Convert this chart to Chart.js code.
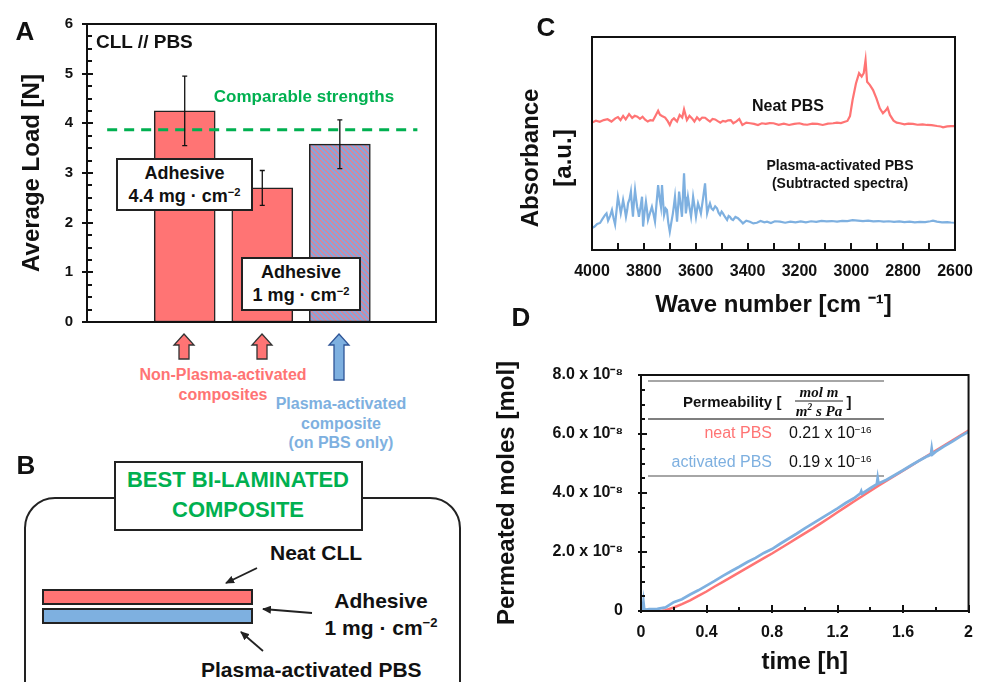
<!DOCTYPE html>
<html>
<head>
<meta charset="utf-8">
<script src="https://cdn.jsdelivr.net/npm/chart.js@4.4.1/dist/chart.umd.min.js"></script>
<style>
  body { margin: 0; background: #fff; }
  #fig { position: relative; width: 985px; height: 682px; overflow: hidden; background: #fff;
         font-family: 'Liberation Sans', Arial, sans-serif; color: #111; }
  #fig canvas, #fig svg, #fig .t, #fig .box { position: absolute; }
  .t { font-weight: bold; white-space: nowrap; line-height: 1; }
  .c { transform: translate(-50%, -50%); }
  .l { transform: translate(0, -50%); }
  .r { transform: translate(-100%, -50%); }
  .rot { transform: translate(-50%, -50%) rotate(-90deg); }
  .box { background: #fff; border: 2px solid #222; box-sizing: border-box; display: flex; flex-direction: column;
         align-items: center; justify-content: center; font-weight: bold; font-size: 18px; line-height: 23px; }
  sup { font-size: 0.62em; vertical-align: 0.55em; line-height: 0; }
  .red { color: #ff7474; }
  .blue { color: #7eb0e0; }
  .green { color: #00b050; }
  .norm { font-weight: normal; }
  .frac { font-family: 'Liberation Serif', serif; font-style: italic; font-size: 15px; }
</style>
</head>
<body>
<div id="fig">
  <svg width="985" height="682" style="left:0;top:0">
    <defs>
      <marker id="ah" markerWidth="9" markerHeight="8" refX="8" refY="4" orient="auto" markerUnits="userSpaceOnUse">
        <path d="M0,0 L9,4 L0,8 Z" fill="#222"/>
      </marker>
    </defs>
    <!-- block arrows under panel A -->
    <path d="M184,334 L194,345 L189,345 L189,359 L179,359 L179,345 L174,345 Z" fill="#ff7474" stroke="#333" stroke-width="1.3"/>
    <path d="M262,334 L272,345 L267,345 L267,359 L257,359 L257,345 L252,345 Z" fill="#ff7474" stroke="#333" stroke-width="1.3"/>
    <path d="M339,334 L349,345 L344,345 L344,380 L334,380 L334,345 L329,345 Z" fill="#7eb0e0" stroke="#2f5597" stroke-width="1.3"/>
    <!-- panel B schematic -->
    <rect x="25" y="498" width="435" height="240" rx="30" fill="none" stroke="#222" stroke-width="2"/>
    <rect x="115" y="462" width="247" height="68" fill="#fff" stroke="#222" stroke-width="2"/>
    <rect x="43" y="590" width="209" height="14" fill="#ff7474" stroke="#222" stroke-width="2"/>
    <rect x="43" y="609" width="209" height="14" fill="#7eb0e0" stroke="#222" stroke-width="2"/>
    <line x1="257" y1="568" x2="226" y2="583" stroke="#222" stroke-width="1.8" marker-end="url(#ah)"/>
    <line x1="312" y1="613" x2="263" y2="609" stroke="#222" stroke-width="1.8" marker-end="url(#ah)"/>
    <line x1="263" y1="651" x2="241" y2="632" stroke="#222" stroke-width="1.8" marker-end="url(#ah)"/>
    <!-- panel D inset table rules -->
    <line x1="648" y1="381" x2="884" y2="381" stroke="#888" stroke-width="1.5"/>
    <line x1="648" y1="419" x2="884" y2="419" stroke="#555" stroke-width="1.5"/>
    <line x1="648" y1="476" x2="884" y2="476" stroke="#888" stroke-width="1.5"/>
    <line x1="795" y1="401" x2="843" y2="401" stroke="#222" stroke-width="1"/>
  </svg>

  <canvas id="chartA" width="450" height="345" style="left:0;top:0"></canvas>
  <canvas id="chartC" width="475" height="320" style="left:510px;top:0"></canvas>
  <canvas id="chartD" width="495" height="382" style="left:490px;top:300px"></canvas>

  <!-- panel letters -->
  <div class="t c" style="left:25px;top:31px;font-size:26px">A</div>
  <div class="t c" style="left:26px;top:465px;font-size:26px">B</div>
  <div class="t c" style="left:546px;top:27px;font-size:26px">C</div>
  <div class="t c" style="left:521px;top:317px;font-size:26px">D</div>

  <!-- panel A notes -->
  <div class="t l" style="left:96px;top:41px;font-size:19px">CLL // PBS</div>
  <div class="t c green" style="left:304px;top:96px;font-size:17px">Comparable strengths</div>
  <div class="box" style="left:116px;top:158px;width:137px;height:53px"><span>Adhesive</span><span>4.4 mg · cm<sup>−2</sup></span></div>
  <div class="box" style="left:241px;top:257px;width:120px;height:54px"><span>Adhesive</span><span>1 mg · cm<sup>−2</sup></span></div>
  <div class="t c red" style="left:223px;top:375px;font-size:16px">Non-Plasma-activated</div>
  <div class="t c red" style="left:223px;top:395px;font-size:16px">composites</div>
  <div class="t c blue" style="left:341px;top:404px;font-size:16px">Plasma-activated</div>
  <div class="t c blue" style="left:341px;top:424px;font-size:16px">composite</div>
  <div class="t c blue" style="left:341px;top:443px;font-size:16px">(on PBS only)</div>

  <!-- panel B text -->
  <div class="t c green" style="left:238px;top:480px;font-size:22px">BEST BI-LAMINATED</div>
  <div class="t c green" style="left:238px;top:510px;font-size:22px">COMPOSITE</div>
  <div class="t l" style="left:270px;top:552px;font-size:21px">Neat CLL</div>
  <div class="t c" style="left:381px;top:600px;font-size:21px">Adhesive</div>
  <div class="t c" style="left:381px;top:627px;font-size:21px">1 mg · cm<sup>−2</sup></div>
  <div class="t l" style="left:201px;top:669px;font-size:21px">Plasma-activated PBS</div>

  <!-- panel C labels -->
  <div class="t rot" style="left:530px;top:158px;font-size:24px">Absorbance</div>
  <div class="t rot" style="left:563px;top:158px;font-size:24px">[a.u.]</div>
  <div class="t c" style="left:788px;top:106px;font-size:16px">Neat PBS</div>
  <div class="t c" style="left:840px;top:165px;font-size:14px">Plasma-activated PBS</div>
  <div class="t c" style="left:840px;top:183px;font-size:14px">(Subtracted spectra)</div>

  <!-- panel D inset table -->
  <div class="t l" style="left:683px;top:401px;font-size:15px">Permeability [</div>
  <div class="t c frac" style="left:819px;top:392px">mol m</div>
  <div class="t c frac" style="left:819px;top:411px">m<sup>2</sup> s Pa</div>
  <div class="t c" style="left:849px;top:401px;font-size:15px">]</div>
  <div class="t r red norm" style="left:772px;top:433px;font-size:16px">neat PBS</div>
  <div class="t l norm" style="left:789px;top:433px;font-size:16px">0.21 x 10<sup>−16</sup></div>
  <div class="t r blue norm" style="left:772px;top:462px;font-size:16px">activated PBS</div>
  <div class="t l norm" style="left:789px;top:462px;font-size:16px">0.19 x 10<sup>−16</sup></div>
</div>

<script>
// ---- A: lap-shear load ----
const groups = ['Adhesive 4.4 mg/cm2', 'Adhesive 1 mg/cm2', 'Plasma-activated, 1 mg/cm2'];
const avgLoad = [4.25, 2.7, 3.58];
const loadErr = [0.7, 0.35, 0.49];
const comparableLevel = 3.87;

// ---- C: FTIR spectra (arbitrary units) ----
const neatWn = [4000,3985,3970,3955,3940,3925,3910,3900,3890,3880,3870,3857,3845,3835,3825,3815,3805,3795,3785,3775,
  3765,3757,3745,3738,3730,3718,3708,3700,3692,3684,3672,3662,3652,3645,3634,3624,3614,3605,3595,3585,
  3575,3564,3555,3545,3535,3525,3515,3505,3495,3485,3475,3465,3455,3443,3432,3420,3405,3390,3375,3360,
  3345,3330,3315,3300,3280,3260,3240,3220,3200,3185,3170,3150,3130,3110,3090,3070,3055,3040,3025,3015,
  3005,2995,2982,2970,2960,2952,2945,2939,2928,2916,2903,2890,2878,2866,2860,2851,2837,2825,2812,2795,
  2780,2762,2745,2725,2708,2690,2669,2655,2646,2630,2615,2600];
const neatAbs = [5.98,6.07,6.02,6.10,6.14,6.03,6.18,6.24,6.10,6.29,6.13,6.38,6.20,6.30,6.26,6.16,6.26,6.12,6.03,6.10,
  6.08,6.26,6.54,6.35,6.29,6.22,6.05,5.87,6.10,6.18,6.03,6.34,6.22,6.60,6.10,6.30,6.18,6.03,6.23,6.10,
  6.22,6.21,6.12,6.03,6.15,6.13,6.05,5.98,6.06,6.03,6.09,6.10,5.95,6.04,6.15,5.87,5.98,5.95,5.92,5.87,
  5.95,5.92,5.96,5.95,5.88,5.93,5.87,5.92,5.95,5.90,5.88,5.93,5.92,5.87,5.93,5.95,5.98,5.96,6.02,6.06,
  6.29,7.04,7.82,8.30,8.14,8.30,8.92,7.90,7.74,7.51,7.12,6.65,6.42,6.57,6.68,6.34,6.07,5.98,5.95,5.90,
  5.93,5.92,5.88,5.90,5.87,5.86,5.82,5.80,5.76,5.80,5.82,5.82];
const actWn = [4000,3990,3980,3969,3960,3950,3944,3938,3930,3923,3917,3911,3905,3900,3894,3889,3884,3880,3874,3869,
  3864,3861,3855,3850,3846,3842,3838,3834,3830,3826,3822,3819,3813,3807,3803,3797,3792,3788,3784,3776,
  3769,3763,3757,3751,3745,3740,3734,3730,3726,3722,3716,3711,3706,3700,3694,3688,3684,3680,3676,3672,
  3668,3664,3658,3653,3649,3645,3641,3638,3634,3630,3624,3618,3614,3610,3604,3599,3595,3591,3585,3580,
  3572,3564,3560,3556,3550,3545,3539,3533,3525,3518,3512,3506,3500,3495,3487,3479,3473,3468,3462,3456,
  3447,3437,3428,3418,3405,3391,3378,3364,3350,3335,3325,3310,3295,3275,3255,3235,3215,3195,3175,3155,
  3135,3115,3095,3075,3055,3035,3015,2995,2975,2955,2935,2915,2895,2875,2855,2835,2815,2795,2775,2755,
  2735,2715,2695,2685,2670,2650,2630,2615,2600];
const actAbs = [1.03,1.10,1.22,1.27,1.45,1.64,1.72,1.38,1.60,1.88,1.50,1.20,1.90,2.50,2.10,1.72,2.05,2.35,1.95,1.56,
  1.90,2.19,2.40,2.74,2.10,1.56,2.30,2.82,2.40,2.03,1.80,1.56,2.00,2.50,1.10,1.80,2.27,1.90,1.41,1.75,
  2.03,1.70,1.33,2.20,3.05,2.50,2.03,3.05,2.30,1.64,1.95,1.88,1.30,0.86,1.30,1.72,2.10,2.50,1.90,1.33,
  2.00,2.74,2.10,1.56,2.60,3.60,2.50,1.72,2.10,2.50,2.00,1.56,2.00,2.50,2.00,1.56,1.90,2.19,1.95,1.72,
  2.40,3.13,2.40,1.72,2.00,2.19,1.95,1.88,2.05,1.96,1.75,1.64,1.80,1.72,1.55,1.41,1.60,1.56,1.45,1.41,
  1.55,1.49,1.38,1.25,1.38,1.33,1.25,1.28,1.36,1.30,1.33,1.27,1.35,1.33,1.28,1.33,1.30,1.34,1.30,1.35,
  1.32,1.37,1.34,1.36,1.33,1.37,1.36,1.40,1.38,1.36,1.38,1.34,1.36,1.33,1.35,1.32,1.34,1.31,1.33,1.30,
  1.32,1.31,1.35,1.38,1.33,1.30,1.31,1.29,1.28];

// ---- D: permeated moles (x 1e-8 mol) vs time (h) ----
const neatTime = [0,0.05,0.1,0.13,0.15,0.2,0.25,0.3,0.35,0.4,0.45,0.5,0.55,0.6,0.65,0.7,0.75,0.8,0.85,0.9,0.95,
  1.0,1.05,1.1,1.15,1.2,1.25,1.3,1.35,1.4,1.45,1.5,1.55,1.6,1.65,1.7,1.75,1.8,1.85,1.9,1.95,2.0];
const neatMoles = [0,0,0,0.01,0.03,0.12,0.23,0.36,0.51,0.66,0.83,0.99,1.15,1.31,1.47,1.63,1.79,1.95,2.12,2.29,2.46,
  2.63,2.80,2.98,3.16,3.35,3.53,3.71,3.89,4.07,4.25,4.42,4.59,4.76,4.93,5.10,5.27,5.44,5.61,5.78,5.95,6.12];
const actTime = [0,0.01,0.015,0.02,0.05,0.1,0.15,0.2,0.25,0.3,0.35,0.4,0.45,0.5,0.55,0.6,0.65,0.7,0.75,0.8,0.85,0.9,0.95,
  1.0,1.05,1.1,1.15,1.2,1.25,1.3,1.34,1.345,1.35,1.4,1.44,1.445,1.45,1.5,1.55,1.6,1.65,1.7,1.75,1.77,1.775,1.78,
  1.8,1.85,1.9,1.95,2.0];
const actMoles = [0.02,0.05,0.30,0.04,0.06,0.07,0.12,0.30,0.40,0.56,0.70,0.86,1.02,1.19,1.35,1.50,1.66,1.80,1.97,2.10,2.28,2.45,2.62,
  2.80,2.97,3.14,3.31,3.48,3.66,3.82,3.99,4.06,3.98,4.16,4.30,4.50,4.32,4.45,4.61,4.77,4.94,5.10,5.25,5.30,5.50,5.31,
  5.40,5.58,5.74,5.92,6.08];

const RED = '#ff7474';
const BLUE = '#7eb0e0';
const GREEN = '#00b050';

Chart.defaults.font.family = "'Liberation Sans', Arial, sans-serif";
Chart.defaults.color = '#111';

// plot frame + tick marks: major ones cross the axis, minor ones point inward
function frameTicks(marks) {
  return {
    id: 'frameTicks',
    afterDraw(chart) {
      const { ctx, chartArea: a } = chart;
      ctx.save();
      ctx.strokeStyle = '#111';
      ctx.lineWidth = 2;
      ctx.strokeRect(a.left, a.top, a.width, a.height);
      ctx.fillStyle = '#111';
      try {
        marks.forEach(m => {
          const s = chart.scales[m.id];
          const n = Math.round((s.max - s.min) / m.step);
          for (let k = 0; k <= n; k++) {
            const v = s.min + k * m.step;
            const p = Math.round(s.getPixelForValue(v));
            const r = v / m.every;
            const isMajor = Math.abs(r - Math.round(r)) < 1e-6;
            const inLen = isMajor ? m.major : m.minor;
            const outLen = isMajor ? m.out : 0;
            if (s.isHorizontal()) ctx.fillRect(p - 1, a.bottom - inLen, 2, inLen + outLen);
            else ctx.fillRect(a.left - outLen, p - 1, inLen + outLen, 2);
          }
        });
      } catch (e) { /* leave the frame as is */ }
      ctx.restore();
    }
  };
}

const errorBars = {
  id: 'errorBars',
  afterDatasetsDraw(chart) {
    const { ctx } = chart;
    const y = chart.scales.y;
    const meta = chart.getDatasetMeta(1);
    ctx.save();
    ctx.strokeStyle = '#111';
    ctx.lineWidth = 1.3;
    meta.data.forEach((bar, i) => {
      const hi = y.getPixelForValue(avgLoad[i] + loadErr[i]);
      const lo = y.getPixelForValue(avgLoad[i] - loadErr[i]);
      ctx.beginPath();
      ctx.moveTo(bar.x, hi); ctx.lineTo(bar.x, lo);
      ctx.moveTo(bar.x - 2.5, hi); ctx.lineTo(bar.x + 2.5, hi);
      ctx.moveTo(bar.x - 2.5, lo); ctx.lineTo(bar.x + 2.5, lo);
      ctx.stroke();
    });
    ctx.restore();
  }
};

function hatch() {
  const c = document.createElement('canvas');
  c.width = c.height = 5;
  const g = c.getContext('2d');
  g.fillStyle = '#86a6dc';
  g.fillRect(0, 0, 5, 5);
  g.strokeStyle = '#f47a84';
  g.lineWidth = 1.2;
  g.beginPath();
  g.moveTo(-1, -1); g.lineTo(6, 6);
  g.moveTo(-1, 4); g.lineTo(1, 6);
  g.moveTo(4, -1); g.lineTo(6, 1);
  g.stroke();
  return g.createPattern(c, 'repeat');
}

const bold = (size) => ({ size, weight: 'bold' });

// ---- panel A ----
new Chart(document.getElementById('chartA'), {
  type: 'bar',
  data: {
    datasets: [
      {
        type: 'line',
        data: [{ x: 0, y: comparableLevel }, { x: 4, y: comparableLevel }],
        borderColor: GREEN, borderWidth: 3, borderDash: [10, 7], pointRadius: 0, order: 0
      },
      {
        type: 'bar',
        label: 'Average load',
        data: groups.map((g, i) => ({ x: i + 1, y: avgLoad[i] })),
        backgroundColor: [RED, RED, hatch()],
        borderColor: '#222', borderWidth: 1.5, borderSkipped: false,
        barThickness: 61, order: 1
      }
    ]
  },
  options: {
    responsive: false, animation: false,
    layout: { padding: { top: 24, right: 14, bottom: 13 } },
    plugins: { legend: { display: false }, tooltip: { enabled: false } },
    scales: {
      x: { type: 'linear', display: false, offset: false, min: -0.26, max: 4.24 },
      y: {
        min: 0, max: 6,
        ticks: { stepSize: 1, padding: 14, font: bold(15) },
        grid: { display: false, drawTicks: false }, border: { display: false },
        title: { display: true, text: 'Average Load [N]', font: { size: 24, weight: 'bold', lineHeight: 1.2 },
                 padding: { top: 18 } },
        afterFit: s => { s.width = 87; }
      }
    }
  },
  plugins: [frameTicks([{ id: 'y', step: 0.25, every: 1, major: 6, minor: 5, out: 5 }]), errorBars]
});

// ---- panel C ----
new Chart(document.getElementById('chartC'), {
  type: 'line',
  data: {
    datasets: [
      { label: 'Neat PBS', data: neatWn.map((w, i) => ({ x: w, y: neatAbs[i] })),
        borderColor: RED, borderWidth: 2.2, pointRadius: 0 },
      { label: 'Plasma-activated PBS', data: actWn.map((w, i) => ({ x: w, y: actAbs[i] })),
        borderColor: BLUE, borderWidth: 2.2, pointRadius: 0 }
    ]
  },
  options: {
    responsive: false, animation: false,
    layout: { padding: { top: 37, right: 30 } },
    plugins: { legend: { display: false }, tooltip: { enabled: false } },
    scales: {
      x: {
        type: 'linear', reverse: true, min: 2600, max: 4000,
        ticks: { stepSize: 200, maxRotation: 0, padding: 12, font: bold(16), callback: v => String(v) },
        grid: { display: false, drawTicks: false }, border: { display: false },
        title: { display: true, text: 'Wave number [cm ⁻¹]', font: { size: 24, weight: 'bold', lineHeight: 1.2 },
                 padding: { top: 0, bottom: 0 } },
        afterFit: s => { s.height = 70; }
      },
      y: {
        min: 0, max: 10,
        ticks: { display: false },
        grid: { display: false, drawTicks: false }, border: { display: false },
        afterFit: s => { s.width = 82; }
      }
    }
  },
  plugins: [frameTicks([{ id: 'x', step: 100, every: 200, major: 7, minor: 7, out: 0 }])]
});

// ---- panel D ----
new Chart(document.getElementById('chartD'), {
  type: 'line',
  data: {
    datasets: [
      { label: 'neat PBS', data: neatTime.map((t, i) => ({ x: t, y: neatMoles[i] })),
        borderColor: RED, borderWidth: 2.5, pointRadius: 0, order: 2 },
      { label: 'activated PBS', data: actTime.map((t, i) => ({ x: t, y: actMoles[i] })),
        borderColor: BLUE, borderWidth: 2.8, pointRadius: 0, order: 1 }
    ]
  },
  options: {
    responsive: false, animation: false,
    layout: { padding: { top: 75, right: 3 } },
    plugins: { legend: { display: false }, tooltip: { enabled: false } },
    scales: {
      x: {
        type: 'linear', min: 0, max: 2,
        ticks: { stepSize: 0.4, maxRotation: 0, padding: 12, font: bold(16),
                 callback: v => String(Math.round(v * 10) / 10) },
        grid: { display: false, drawTicks: false }, border: { display: false },
        title: { display: true, text: 'time [h]', font: { size: 24, weight: 'bold', lineHeight: 1.2 },
                 padding: { top: 0, bottom: 5 } },
        afterFit: s => { s.height = 71; }
      },
      y: {
        min: 0, max: 8,
        ticks: { stepSize: 2, padding: 18, font: bold(16),
                 callback: v => v === 0 ? '0' : v.toFixed(1) + ' x 10⁻⁸' },
        grid: { display: false, drawTicks: false }, border: { display: false },
        title: { display: true, text: 'Permeated moles [mol]', font: { size: 24, weight: 'bold', lineHeight: 1.2 },
                 padding: { top: 3 } },
        afterFit: s => { s.width = 151; }
      }
    }
  },
  plugins: [frameTicks([{ id: 'x', step: 0.2, every: 0.4, major: 6, minor: 4, out: 2 },
                        { id: 'y', step: 0.5, every: 2, major: 6, minor: 4, out: 3 }])]
});
</script>
</body>
</html>
